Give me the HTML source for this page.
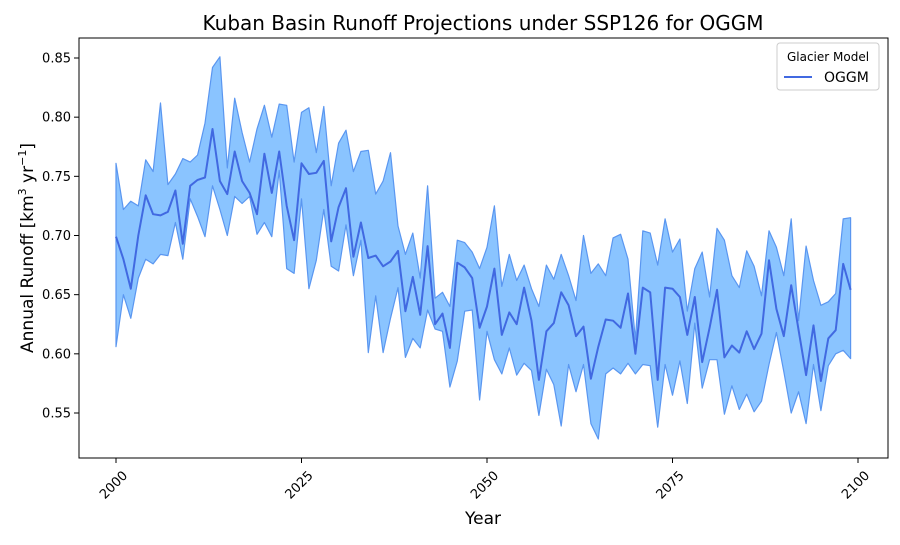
<!DOCTYPE html>
<html><head><meta charset="utf-8"><style>
body{margin:0;background:#fff;font-family:"Liberation Sans","DejaVu Sans",sans-serif}
</style></head><body>
<svg id="chart" width="900" height="540" xmlns="http://www.w3.org/2000/svg" font-family="DejaVu Sans, Liberation Sans, sans-serif">
<rect width="900" height="540" fill="#fff"/>
<text x="483" y="30" text-anchor="middle" font-size="20">Kuban Basin Runoff Projections under SSP126 for OGGM</text>
<g id="plot"></g>
<rect x="79" y="38" width="809" height="420" fill="none" stroke="#000" stroke-width="1"/>
<text x="483" y="524" text-anchor="middle" font-size="17">Year</text>
<text transform="translate(33,248) rotate(-90)" text-anchor="middle" font-size="17">Annual Runoff [km<tspan font-size="11" dy="-7">3</tspan><tspan dy="7"> yr</tspan><tspan font-size="11" dy="-7">−1</tspan><tspan dy="7">]</tspan></text>
<g>
<rect x="777" y="43" width="102" height="47" rx="3" fill="#fff" stroke="#ccc"/>
<text x="828" y="61" text-anchor="middle" font-size="12">Glacier Model</text>
<line x1="784" y1="77" x2="812" y2="77" stroke="#4169e1" stroke-width="2"/>
<text x="824" y="82" font-size="14">OGGM</text>
</g>
</svg>
<script>
const years=[];for(let y=2000;y<=2099;y++)years.push(y);
const meanRunoff=[0.699,0.680,0.655,0.700,0.734,0.718,0.717,0.720,0.738,0.693,0.742,0.747,0.749,0.790,0.746,0.735,0.771,0.746,0.736,0.718,0.769,0.736,0.771,0.725,0.696,0.761,0.752,0.753,0.763,0.695,0.724,0.740,0.682,0.711,0.681,0.683,0.674,0.678,0.687,0.636,0.665,0.633,0.691,0.625,0.634,0.605,0.677,0.673,0.664,0.622,0.640,0.672,0.616,0.635,0.625,0.656,0.628,0.578,0.619,0.626,0.652,0.641,0.615,0.623,0.579,0.606,0.629,0.628,0.622,0.651,0.600,0.656,0.652,0.578,0.656,0.655,0.648,0.616,0.648,0.593,0.622,0.654,0.597,0.607,0.601,0.619,0.604,0.617,0.679,0.638,0.615,0.658,0.620,0.582,0.624,0.577,0.613,0.620,0.676,0.654];
const upperRunoff=[0.761,0.722,0.729,0.725,0.764,0.754,0.812,0.743,0.752,0.765,0.762,0.768,0.795,0.842,0.851,0.757,0.816,0.787,0.762,0.790,0.810,0.783,0.811,0.810,0.762,0.804,0.808,0.770,0.809,0.742,0.778,0.789,0.754,0.771,0.772,0.735,0.746,0.770,0.708,0.684,0.702,0.664,0.742,0.647,0.652,0.640,0.696,0.694,0.686,0.672,0.690,0.725,0.657,0.684,0.662,0.675,0.655,0.640,0.675,0.663,0.684,0.666,0.645,0.700,0.668,0.676,0.666,0.698,0.701,0.680,0.612,0.704,0.702,0.675,0.714,0.686,0.697,0.636,0.672,0.686,0.648,0.706,0.696,0.666,0.656,0.687,0.674,0.649,0.704,0.690,0.666,0.714,0.628,0.691,0.662,0.641,0.644,0.651,0.714,0.715];
const lowerRunoff=[0.606,0.650,0.630,0.664,0.680,0.676,0.684,0.683,0.711,0.680,0.731,0.716,0.699,0.742,0.722,0.700,0.733,0.727,0.733,0.701,0.711,0.699,0.755,0.672,0.668,0.731,0.655,0.679,0.722,0.674,0.670,0.709,0.666,0.696,0.601,0.649,0.601,0.630,0.656,0.597,0.613,0.605,0.637,0.621,0.619,0.572,0.594,0.636,0.637,0.561,0.619,0.595,0.583,0.605,0.582,0.592,0.586,0.548,0.587,0.574,0.539,0.591,0.568,0.591,0.541,0.528,0.583,0.588,0.583,0.592,0.583,0.591,0.590,0.538,0.591,0.565,0.594,0.558,0.626,0.571,0.595,0.595,0.549,0.573,0.553,0.566,0.551,0.560,0.591,0.618,0.585,0.550,0.568,0.541,0.591,0.552,0.590,0.600,0.603,0.596];
const xTicks=[2000,2025,2050,2075,2100];
const yTicks=[0.55,0.60,0.65,0.70,0.75,0.80,0.85];

const NS='http://www.w3.org/2000/svg';
const X=v=>116+(v-2000)*7.42;
const Y=v=>58+(0.85-v)*1183.3;
const g=document.getElementById('plot');
function mk(t,a){const e=document.createElementNS(NS,t);for(const k in a)e.setAttribute(k,a[k]);g.appendChild(e);return e;}

let d='M'+years.map((y,i)=>X(y).toFixed(1)+','+Y(upperRunoff[i]).toFixed(1)).join('L');
for(let i=years.length-1;i>=0;i--)d+='L'+X(years[i]).toFixed(1)+','+Y(lowerRunoff[i]).toFixed(1);
d+='Z';
const band=mk('path',{d:d,fill:'#8ac4ff',stroke:'#5a96f0','stroke-width':1.2,'stroke-linejoin':'round'});


const line=mk('polyline',{points:years.map((y,i)=>X(y).toFixed(1)+','+Y(meanRunoff[i]).toFixed(1)).join(' '),fill:'none',stroke:'#4169e1','stroke-width':2,'stroke-linejoin':'round'});



xTicks.forEach(t=>{
 const tk=mk('line',{x1:X(t),x2:X(t),y1:458,y2:463,stroke:'#000'});
 
 
 const tx=mk('text',{transform:`translate(${X(t)+6},${470}) rotate(-45)`,'text-anchor':'end','font-size':13,'dominant-baseline':'hanging'});
 tx.textContent=t;
 
 
});
yTicks.forEach(t=>{
 const tk=mk('line',{x1:74,x2:79,y1:Y(t),y2:Y(t),stroke:'#000'});
 
 
 const tx=mk('text',{x:71,y:Y(t)+4.5,'text-anchor':'end','font-size':13});
 tx.textContent=t.toFixed(2);
 
 
});
</script>
</body></html>
